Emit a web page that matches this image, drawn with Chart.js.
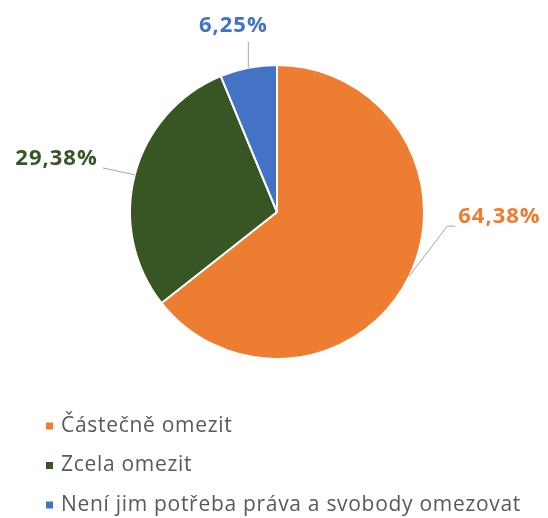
<!DOCTYPE html>
<html>
<head>
<meta charset="utf-8">
<script src="https://cdn.jsdelivr.net/npm/chart.js@4/dist/chart.umd.min.js"></script>
<style>
  html, body { margin: 0; padding: 0; background: #ffffff; }
  #wrap { width: 548px; height: 518px; }
</style>
</head>
<body>
<div id="wrap"><canvas id="c" width="548" height="518"></canvas></div>
<script>
// Answer categories and their shares (percent)
const categories = ['Částečně omezit', 'Zcela omezit', 'Není jim potřeba práva a svobody omezovat'];
const shares = [64.38, 29.38, 6.25];
const valueLabels = ['64,38%', '29,38%', '6,25%'];
const sliceColors = ['#ED7D31', '#375623', '#4472C4'];

// Callout placement for each slice, relative to the point on the rim at the slice's mid angle:
// line: leader-line points, text: label anchor, align: text alignment
const callouts = [
  { line: [[38, -50], [46, -50]], text: [49, -59], align: 'left' },
  { line: [[-32, -7]], text: [-37, -16], align: 'right' },
  { line: [[0, -26]], text: [-15, -42], align: 'center' }
];

const labelFont = '700 22px "Open Sans", sans-serif';
const legendFont = '400 21px "Open Sans", sans-serif';

const calloutPlugin = {
  id: 'callouts',
  afterDatasetsDraw(chart) {
    const ctx = chart.ctx;
    const meta = chart.getDatasetMeta(0);
    meta.data.forEach((arc, i) => {
      const p = arc.getProps(['x', 'y', 'startAngle', 'endAngle', 'outerRadius'], true);
      const mid = (p.startAngle + p.endAngle) / 2;
      const ax = p.x + Math.cos(mid) * p.outerRadius;
      const ay = p.y + Math.sin(mid) * p.outerRadius;
      const c = callouts[i];
      ctx.save();
      ctx.strokeStyle = '#A6A6A6';
      ctx.lineWidth = 1;
      ctx.beginPath();
      ctx.moveTo(ax, ay);
      c.line.forEach(([dx, dy]) => ctx.lineTo(ax + dx, ay + dy));
      ctx.stroke();
      ctx.font = labelFont;
      ctx.letterSpacing = '1px';
      ctx.fillStyle = sliceColors[i];
      ctx.textAlign = c.align;
      ctx.textBaseline = 'middle';
      ctx.fillText(valueLabels[i], ax + c.text[0], ay + c.text[1]);
      ctx.restore();
    });
  }
};

// Vertical legend in the lower-left corner
const legendPlugin = {
  id: 'vlegend',
  afterDraw(chart) {
    const ctx = chart.ctx;
    const x0 = 46, y0 = 426, rowGap = 39.5, box = 7;
    ctx.save();
    ctx.font = legendFont;
    ctx.letterSpacing = '0.7px';
    ctx.textBaseline = 'middle';
    ctx.textAlign = 'left';
    categories.forEach((name, i) => {
      const y = y0 + i * rowGap;
      ctx.fillStyle = sliceColors[i];
      ctx.fillRect(x0, y - box / 2, box, box);
      ctx.fillStyle = '#595959';
      ctx.fillText(name, x0 + 15, y);
    });
    ctx.restore();
  }
};

new Chart(document.getElementById('c'), {
  type: 'pie',
  data: {
    labels: categories,
    datasets: [{
      data: shares,
      backgroundColor: sliceColors,
      borderColor: '#ffffff',
      borderWidth: 2,
      hoverOffset: 0
    }]
  },
  options: {
    responsive: false,
    animation: false,
    events: [],
    layout: { padding: { left: 129, right: 123, top: 64, bottom: 158 } },
    plugins: {
      legend: { display: false },
      tooltip: { enabled: false },
      title: { display: false }
    }
  },
  plugins: [calloutPlugin, legendPlugin]
});
</script>
</body>
</html>
